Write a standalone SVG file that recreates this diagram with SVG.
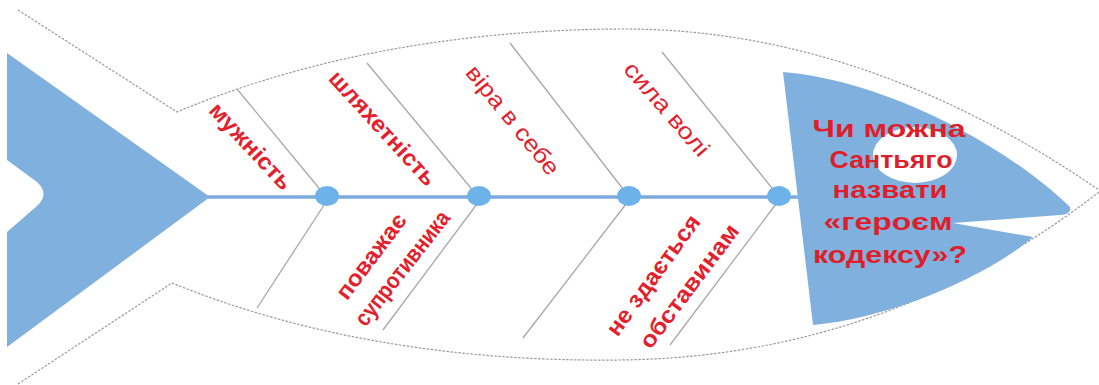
<svg xmlns="http://www.w3.org/2000/svg" width="1099" height="385" viewBox="0 0 1099 385">
<style>
.outline{fill:none;stroke:#9a9a9a;stroke-width:1.2;stroke-dasharray:2.5 1.5}
.blue{fill:#7fb0de}
.bone{stroke:#a8a8a8;stroke-width:1.3;fill:none}
.spine{stroke:#7eaadb;stroke-width:3.5;fill:none}
.node{fill:#6db3e9}
.lbl{font-family:"Liberation Sans",Arial,sans-serif;font-size:23px;fill:#e3202b;text-anchor:middle}
.b{font-weight:bold}
.q{font-family:"Liberation Sans",Arial,sans-serif;font-size:24px;font-weight:bold;fill:#de1f2a;text-anchor:middle}
</style>
<rect width="1099" height="385" fill="#ffffff"/>
<g id="outline">
<path class="outline" d="M18,10 L177,112 C300,60 450,30 620,29 C800,28 960,95 1099,190"/>
<path class="outline" d="M18,384 L172,283 C300,335 450,362 620,360 C800,358 960,300 1099,192"/>
</g>
<g id="tail">
<path class="blue" d="M7,53 L210,197 L7,347 Z"/>
<path fill="#ffffff" d="M7,160 L37,182 Q50,194 37,206 L7,232 Z"/>
</g>
<g id="connectors">
<line class="spine" x1="208" y1="197" x2="810" y2="197"/>
<line class="bone" x1="237" y1="89" x2="323" y2="193"/>
<line class="bone" x1="367" y1="63" x2="475" y2="193"/>
<line class="bone" x1="510" y1="43" x2="626" y2="193"/>
<line class="bone" x1="662" y1="52" x2="776" y2="193"/>
<line class="bone" x1="326" y1="202" x2="257" y2="308"/>
<line class="bone" x1="477" y1="204" x2="383" y2="330"/>
<line class="bone" x1="626" y1="204" x2="523" y2="338"/>
<line class="bone" x1="776" y1="204" x2="670" y2="345"/>
</g>
<g id="node-1"><ellipse class="node" cx="327" cy="196" rx="12" ry="10"/></g>
<g id="node-2"><ellipse class="node" cx="479" cy="196" rx="12" ry="10"/></g>
<g id="node-3"><ellipse class="node" cx="629" cy="196" rx="12" ry="10"/></g>
<g id="node-4"><ellipse class="node" cx="779" cy="196" rx="12" ry="10"/></g>
<g id="head">
<path class="blue" d="M783,72 C880,80 1000,140 1070,207 Q1072,214 1060,215 L953,223 L1033,237 C985,278 890,318 813,325 Z"/>
<ellipse fill="#ffffff" cx="915" cy="155" rx="42" ry="28"/>
<text class="q" x="889" y="137" textLength="153" lengthAdjust="spacingAndGlyphs">Чи можна</text>
<text class="q" x="891" y="168" textLength="123" lengthAdjust="spacingAndGlyphs">Сантьяго</text>
<text class="q" x="890" y="198" textLength="115" lengthAdjust="spacingAndGlyphs">назвати</text>
<text class="q" x="888" y="230" textLength="129" lengthAdjust="spacingAndGlyphs">«героєм</text>
<text class="q" x="890" y="263" textLength="154" lengthAdjust="spacingAndGlyphs">кодексу»?</text>
</g>
<g id="label-muzhnist" transform="translate(251,146) rotate(47)"><text class="lbl b" x="0" y="8" textLength="110" lengthAdjust="spacingAndGlyphs">мужність</text></g>
<g id="label-shliakhetnist" transform="translate(383,128) rotate(47.5)"><text class="lbl b" x="0" y="8" textLength="147" lengthAdjust="spacingAndGlyphs">шляхетність</text></g>
<g id="label-vira" transform="translate(513,120) rotate(51)"><text class="lbl" x="0" y="8" textLength="134" lengthAdjust="spacingAndGlyphs">віра в себе</text></g>
<g id="label-syla" transform="translate(667,109) rotate(49)"><text class="lbl" x="0" y="8" textLength="117" lengthAdjust="spacingAndGlyphs">сила волі</text></g>
<g id="label-povazhaie" transform="translate(371,256) rotate(-53)"><text class="lbl b" x="0" y="8" textLength="101" lengthAdjust="spacingAndGlyphs">поважає</text></g>
<g id="label-suprotyvnyka" transform="translate(402,268) rotate(-52)"><text class="lbl b" x="0" y="8" textLength="139" lengthAdjust="spacingAndGlyphs">супротивника</text></g>
<g id="label-ne-zdaietsia" transform="translate(653,275) rotate(-54)"><text class="lbl b" x="0" y="8" textLength="143" lengthAdjust="spacingAndGlyphs">не здається</text></g>
<g id="label-obstavynam" transform="translate(689,286) rotate(-53)"><text class="lbl b" x="0" y="8" textLength="149" lengthAdjust="spacingAndGlyphs">обставинам</text></g>
</svg>
